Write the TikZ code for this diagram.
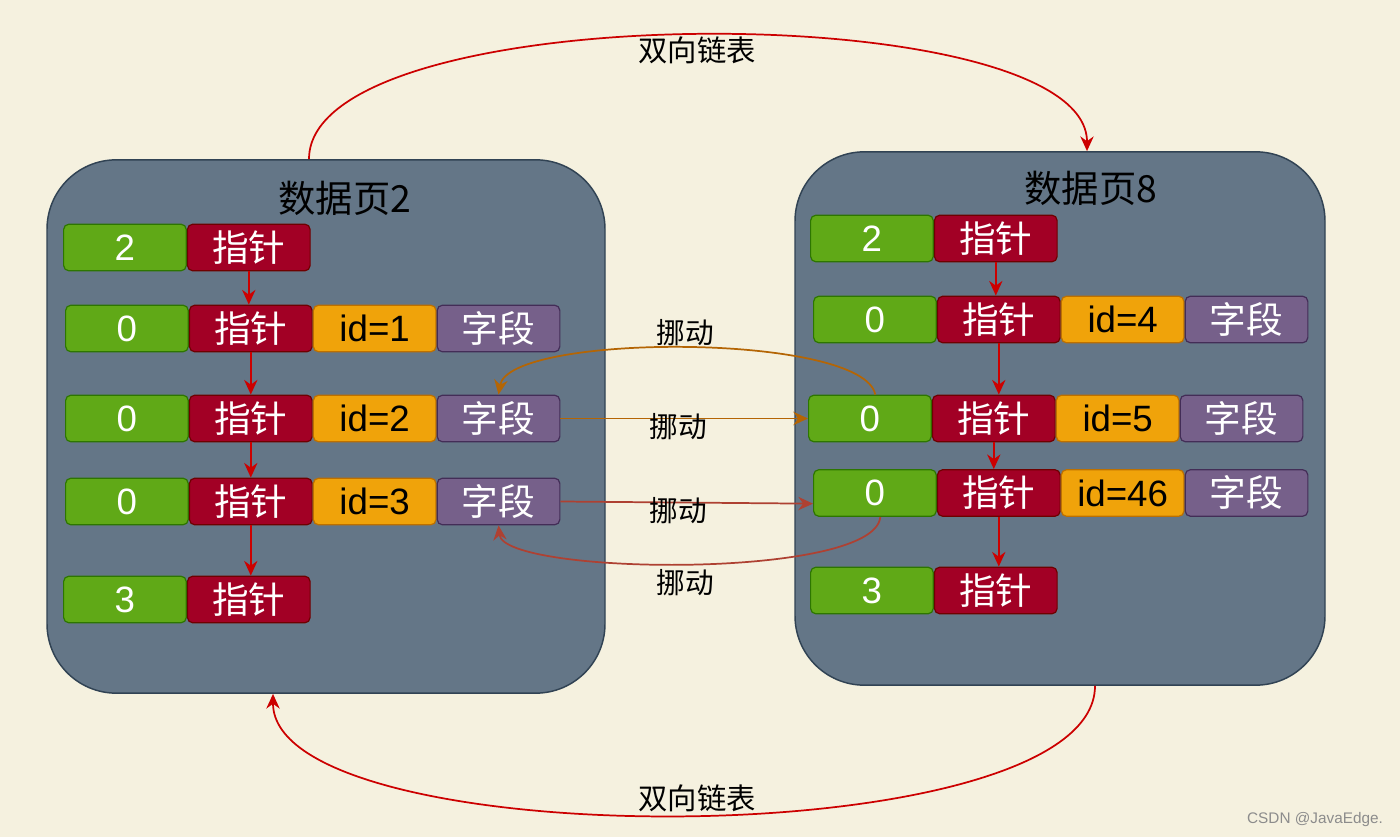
\documentclass[tikz,border=0pt]{standalone}
\usepackage{fontspec}
\setmainfont{Noto Sans CJK SC}
\newfontfamily\latinfont{Liberation Sans}
\usepackage{xcolor}
\usepackage{tikz}
\usetikzlibrary{arrows.meta,positioning}
\definecolor{paper}{HTML}{F5F1DF}
\definecolor{slate}{HTML}{647687}
\definecolor{slateline}{HTML}{314354}
\definecolor{leaf}{HTML}{60A917}
\definecolor{leafline}{HTML}{2D7600}
\definecolor{wine}{HTML}{A20025}
\definecolor{wineline}{HTML}{6F0000}
\definecolor{amber}{HTML}{F0A30A}
\definecolor{amberline}{HTML}{BD7000}
\definecolor{plum}{HTML}{76608A}
\definecolor{plumline}{HTML}{432D57}
\definecolor{linkred}{HTML}{CC0000}
\definecolor{ochre}{HTML}{B46504}
\definecolor{rust}{HTML}{AE4132}
\definecolor{mark}{HTML}{8C8C8C}

\begin{document}
\begin{tikzpicture}[x=0.75pt,y=0.75pt,
  cell/.style={draw, line width=0.9pt, rounded corners=4pt, minimum width=92pt,
    minimum height=35pt, inner sep=0pt, text=white, font=\fontsize{27.5}{30}\selectfont},
  numcell/.style={cell, fill=leaf, draw=leafline, font=\fontsize{27.5}{30}\selectfont\latinfont},
  ptrcell/.style={cell, fill=wine, draw=wineline},
  idcell/.style={cell, fill=amber, draw=amberline, text=black, font=\fontsize{27.5}{30}\selectfont\latinfont},
  fldcell/.style={cell, fill=plum, draw=plumline},
  datapage/.style={draw=slateline, fill=slate, line width=1.1pt, rounded corners=52pt,
    minimum height=400pt, inner sep=0pt},
  pagetitle/.style={font=\fontsize{28}{32}\selectfont},
  note/.style={font=\fontsize{21.5}{24}\selectfont},
  next/.style={draw=linkred, line width=1.3pt, -{Stealth[length=11pt,width=10pt]}},
  move/.style={line width=1.3pt, -{Stealth[length=11pt,width=10pt]}}]
  \useasboundingbox (0,0) rectangle (1400,-837);
  \fill[paper] (0,0) rectangle (1400,-837);

  % the two data pages
  \node[datapage, minimum width=418.5pt] (pl) at (326,-426.5) {};
  \node[datapage, minimum width=397.5pt] (pr) at (1060,-418.5) {};
  \node[pagetitle] (tl) at (345,-198) {数据页2};
  \node[pagetitle] (tr) at (1091,-188) {数据页8};

  % records of page 2
  \node[numcell, anchor=west] (l0n) at (63,-247.5) {2};
  \node[ptrcell, right=0pt of l0n] (l0p) {指针};
  \node[numcell, anchor=west] (l1n) at (65,-328.5) {0};
  \node[ptrcell, right=0pt of l1n] (l1p) {指针};
  \node[idcell, right=0pt of l1p] (l1i) {id=1};
  \node[fldcell, right=0pt of l1i] (l1f) {字段};
  \node[numcell, anchor=west] (l2n) at (65,-418.5) {0};
  \node[ptrcell, right=0pt of l2n] (l2p) {指针};
  \node[idcell, right=0pt of l2p] (l2i) {id=2};
  \node[fldcell, right=0pt of l2i] (l2f) {字段};
  \node[numcell, anchor=west] (l3n) at (65,-501.5) {0};
  \node[ptrcell, right=0pt of l3n] (l3p) {指针};
  \node[idcell, right=0pt of l3p] (l3i) {id=3};
  \node[fldcell, right=0pt of l3i] (l3f) {字段};
  \node[numcell, anchor=west] (l4n) at (63,-599.5) {3};
  \node[ptrcell, right=0pt of l4n] (l4p) {指针};

  % records of page 8
  \node[numcell, anchor=west] (r0n) at (810,-238.5) {2};
  \node[ptrcell, right=0pt of r0n] (r0p) {指针};
  \node[numcell, anchor=west] (r1n) at (813,-319.5) {0};
  \node[ptrcell, right=0pt of r1n] (r1p) {指针};
  \node[idcell, right=0pt of r1p] (r1i) {id=4};
  \node[fldcell, right=0pt of r1i] (r1f) {字段};
  \node[numcell, anchor=west] (r2n) at (808,-418.5) {0};
  \node[ptrcell, right=0pt of r2n] (r2p) {指针};
  \node[idcell, right=0pt of r2p] (r2i) {id=5};
  \node[fldcell, right=0pt of r2i] (r2f) {字段};
  \node[numcell, anchor=west] (r3n) at (813,-493) {0};
  \node[ptrcell, right=0pt of r3n] (r3p) {指针};
  \node[idcell, right=0pt of r3p] (r3i) {id=46};
  \node[fldcell, right=0pt of r3i] (r3f) {字段};
  \node[numcell, anchor=west] (r4n) at (810,-590.5) {3};
  \node[ptrcell, right=0pt of r4n] (r4p) {指针};

  % pointer chains
  \draw[next] (l0p.south) -- (l0p.south |- l1p.north);
  \draw[next] (l1p.south) -- (l1p.south |- l2p.north);
  \draw[next] (l2p.south) -- (l2p.south |- l3p.north);
  \draw[next] (l3p.south) -- (l3p.south |- l4p.north);
  \draw[next] (r0p.south) -- (r0p.south |- r1p.north);
  \draw[next] (r1p.south) -- (r1p.south |- r2p.north);
  \draw[next] (r2p.south) -- (r2p.south |- r3p.north);
  \draw[next] (r3p.south) -- (r3p.south |- r4p.north);

  % doubly linked pages
  \draw[next] ([xshift=-12.75pt]pl.north) .. controls (309,5) and (1087,5) .. ([xshift=20.25pt]pr.north);
  \draw[next] ([xshift=26.25pt]pr.south) .. controls (1095,-857) and (273,-857) .. ([xshift=-39.75pt]pl.south);
  \node[note, font=\fontsize{22}{25}\selectfont] (dl1) at (697,-50) {双向链表};
  \node[note, font=\fontsize{22}{25}\selectfont] (dl2) at (697,-798) {双向链表};

  % moved records
  \draw[move, draw=ochre] (l2f) -- (r2n);
  \draw[move, draw=ochre] ([xshift=4pt]r2n.north) .. controls +(-12,62) and +(10,62) .. (l2f.north);
  \draw[move, draw=rust] (l3f.east) -- ([yshift=-8pt]r3n.west);
  \draw[move, draw=rust] ([xshift=4pt]r3n.south) .. controls +(-5,-63) and +(5,-50) .. (l3f.south);
  \node[note] (mv1) at (685,-333) {挪动};
  \node[note] (mv2) at (678,-427) {挪动};
  \node[note] (mv3) at (678,-511) {挪动};
  \node[note] (mv4) at (685,-583) {挪动};

  \node[text=mark, font=\fontsize{11.5}{14}\selectfont\latinfont] (wm) at (1315,-820) {CSDN @JavaEdge.};
\end{tikzpicture}
\end{document}
